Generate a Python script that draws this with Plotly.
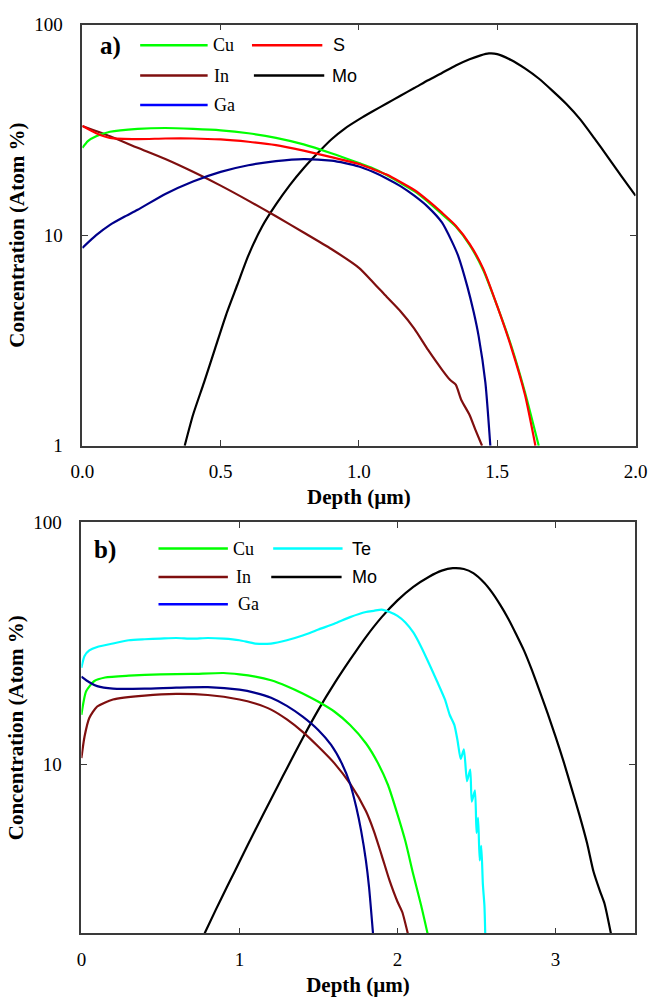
import plotly.graph_objects as go

# ---------------- Panel a data (depth in um, concentration in atom %) ----------------
depth_a_cu = [0, 0.02, 0.05, 0.1, 0.2, 0.3, 0.4, 0.5, 0.6, 0.7, 0.8, 0.9, 1.0, 1.05, 1.1, 1.15, 1.2, 1.25, 1.3, 1.35, 1.4, 1.45, 1.5, 1.55, 1.6, 1.65]
cu_a = [26, 28, 29.5, 31, 32, 32.3, 32, 31.5, 30.5, 29, 27, 24.5, 22, 20.8, 19.3, 17.7, 16.2, 14.4, 12.6, 11, 9.0, 6.8, 4.6, 3.0, 1.8, 1.0]

depth_a_s = [0, 0.05, 0.1, 0.2, 0.3, 0.4, 0.5, 0.6, 0.7, 0.8, 0.9, 1.0, 1.05, 1.1, 1.15, 1.2, 1.25, 1.3, 1.35, 1.4, 1.45, 1.5, 1.55, 1.6, 1.638]
s_a = [33, 30.5, 29, 28.6, 28.8, 28.8, 28.5, 27.8, 26.8, 25.2, 23.5, 21.8, 20.6, 19.4, 17.9, 16.4, 14.6, 12.8, 11.1, 9.1, 6.9, 4.6, 2.95, 1.75, 1.0]

depth_a_in = [0, 0.1, 0.2, 0.3, 0.4, 0.5, 0.6, 0.7, 0.8, 0.9, 1.0, 1.05, 1.1, 1.15, 1.2, 1.25, 1.3, 1.33, 1.35, 1.37, 1.4, 1.42, 1.445]
in_a = [33, 29.5, 26, 23, 20, 17.2, 14.6, 12.3, 10.3, 8.6, 7.0, 6.0, 5.1, 4.35, 3.6, 2.85, 2.3, 2.05, 1.95, 1.65, 1.4, 1.2, 1.0]

depth_a_ga = [0, 0.05, 0.1, 0.15, 0.2, 0.3, 0.4, 0.5, 0.6, 0.7, 0.8, 0.9, 0.95, 1.0, 1.05, 1.1, 1.15, 1.2, 1.25, 1.3, 1.335, 1.36, 1.392, 1.415, 1.433, 1.457, 1.475]
ga_a = [8.7, 10, 11.2, 12.2, 13.2, 15.7, 18, 20, 21.5, 22.5, 23, 22.6, 22, 21.2, 20, 18.6, 17.1, 15.4, 13.6, 11.5, 9.4, 7.9, 5.7, 4.3, 3.3, 2.0, 1.0]

depth_a_mo = [0.37, 0.40, 0.44, 0.48, 0.52, 0.56, 0.6, 0.65, 0.7, 0.75, 0.8, 0.85, 0.9, 0.95, 1.0, 1.05, 1.1, 1.15, 1.2, 1.25, 1.3, 1.35, 1.4, 1.44, 1.47, 1.5, 1.55, 1.6, 1.65, 1.7, 1.75, 1.8, 1.85, 1.9, 1.95, 2.0]
mo_a = [1.0, 1.4, 2.0, 2.9, 4.2, 5.8, 8.0, 11.0, 14.0, 17.3, 20.8, 24.5, 28.5, 32.2, 35.5, 38.8, 42.2, 46, 50, 54.5, 59, 64, 68.5, 71.5, 73, 72.5, 68, 62, 55.5, 48.5, 42, 35.5, 29, 23.5, 19, 15.4]

# ---------------- Panel b data ----------------
depth_b_cu = [0, 0.03, 0.08, 0.15, 0.3, 0.5, 0.7, 0.9, 1.0, 1.1, 1.2, 1.3, 1.4, 1.5, 1.6, 1.7, 1.8, 1.88, 1.94, 2.0, 2.05, 2.1, 2.15, 2.19]
cu_b = [16, 20, 22, 22.8, 23.2, 23.5, 23.6, 23.8, 23.5, 23, 22.2, 21, 19.6, 18.1, 16.5, 14.5, 12.2, 10, 8.2, 6.2, 4.8, 3.5, 2.6, 2.0]

depth_b_te = [0, 0.02, 0.05, 0.1, 0.2, 0.3, 0.4, 0.5, 0.6, 0.7, 0.8, 0.9, 1.0, 1.1, 1.2, 1.3, 1.4, 1.5, 1.6, 1.7, 1.8, 1.85, 1.9, 1.95, 2.0, 2.05, 2.1, 2.15, 2.2, 2.25, 2.3, 2.33, 2.36, 2.38, 2.4, 2.42, 2.44, 2.46, 2.47, 2.49, 2.5, 2.51, 2.52, 2.53, 2.54, 2.55, 2.555]
te_b = [25, 28, 29.5, 30.5, 31.5, 32.5, 32.8, 33, 33.2, 33, 33.2, 33, 32.5, 31.5, 31.5, 32.5, 34, 36, 38, 40.5, 42.5, 43, 43.5, 42.5, 41, 38.5, 35, 30.5, 26, 22, 18.5, 16, 14.5, 12.5, 10.5, 11.5, 8.5, 9.5, 7, 7.8, 5.2, 6, 4, 4.6, 3.2, 2.6, 2.0]

depth_b_in = [0, 0.02, 0.05, 0.1, 0.2, 0.4, 0.6, 0.8, 1.0, 1.1, 1.2, 1.3, 1.4, 1.5, 1.6, 1.7, 1.8, 1.85, 1.9, 1.95, 2.0, 2.03, 2.065]
in_b = [10.6, 13, 15.5, 17.3, 18.5, 19.2, 19.5, 19.3, 18.5, 17.8, 16.8, 15.3, 13.6, 11.8, 10.1, 8.3, 6.4, 5.3, 4.2, 3.3, 2.7, 2.45, 2.0]

depth_b_ga = [0, 0.05, 0.1, 0.2, 0.4, 0.6, 0.8, 1.0, 1.1, 1.2, 1.3, 1.4, 1.5, 1.58, 1.65, 1.7, 1.74, 1.77, 1.8, 1.82, 1.845]
ga_b = [23, 21.8, 21, 20.5, 20.5, 20.7, 20.8, 20.3, 19.7, 18.8, 17.4, 15.7, 13.8, 12, 10, 8.3, 6.6, 5.3, 4.0, 3.1, 2.0]

depth_b_mo = [0.78, 0.85, 0.92, 0.97, 1.05, 1.15, 1.25, 1.3, 1.4, 1.5, 1.6, 1.7, 1.8, 1.9, 2.0, 2.1, 2.2, 2.28, 2.35, 2.42, 2.48, 2.55, 2.6, 2.65, 2.7, 2.75, 2.8, 2.85, 2.9, 2.95, 3.0, 3.05, 3.1, 3.15, 3.2, 3.24, 3.28, 3.31, 3.35]
mo_b = [2.0, 2.5, 3.1, 3.6, 4.6, 6.2, 8.3, 9.6, 12.8, 16.8, 21.5, 27, 33.5, 40.5, 47.5, 54, 59.5, 63, 64.5, 64, 61.5, 56, 51, 45.5, 40, 34.5, 29.5, 24.5, 20, 16.2, 13, 10.3, 8, 6.2, 4.7, 3.6, 3.0, 2.65, 2.0]

# tick labels
xticks_a = [0, 0.5, 1.0, 1.5, 2.0]
xticklabels_a = ["0.0", "0.5", "1.0", "1.5", "2.0"]
xticks_b = [0, 1, 2, 3]
xticklabels_b = ["0", "1", "2", "3"]
yticks_a = [1, 10, 100]
yticks_b = [10, 100]

GREEN = "#00FF00"
RED = "#FF0000"
BROWN = "#7F0F0F"
NAVY = "#00008B"
BLUE = "#0000FF"
CYAN = "#00FFFF"
BLACK = "#000000"

W, H = 662, 1007


def px(x):
    return x / W


def py(y):
    return 1 - y / H


fig = go.Figure()

panel_a = [
    ("Mo", depth_a_mo, mo_a, BLACK),
    ("In", depth_a_in, in_a, BROWN),
    ("Ga", depth_a_ga, ga_a, NAVY),
    ("Cu", depth_a_cu, cu_a, GREEN),
    ("S", depth_a_s, s_a, RED),
]
for name, xs, ys, col in panel_a:
    fig.add_trace(go.Scatter(x=xs, y=ys, mode="lines", name=name,
                             line=dict(color=col, width=2.2, shape="spline", smoothing=0.6),
                             showlegend=False, xaxis="x", yaxis="y"))

panel_b = [
    ("Mo", depth_b_mo, mo_b, BLACK),
    ("Te", depth_b_te, te_b, CYAN),
    ("Cu", depth_b_cu, cu_b, GREEN),
    ("In", depth_b_in, in_b, BROWN),
    ("Ga", depth_b_ga, ga_b, NAVY),
]
for name, xs, ys, col in panel_b:
    fig.add_trace(go.Scatter(x=xs, y=ys, mode="lines", name=name,
                             line=dict(color=col, width=2.2, shape="spline", smoothing=0.6),
                             showlegend=False, xaxis="x2", yaxis="y2"))

SERIF = "Liberation Serif, Times New Roman, serif"
SANS = "Liberation Sans Narrow, Liberation Sans, Arial, sans-serif"
AXCOL = "#3a3a3a"

common_axis = dict(showline=True, linecolor=AXCOL, linewidth=1.5, mirror="ticks",
                   ticks="inside", ticklen=6, tickwidth=1.3, tickcolor=AXCOL,
                   showgrid=False, zeroline=False,
                   tickfont=dict(family=SERIF, size=19, color="black"))
title_font = dict(family=SERIF, size=21, color="black", weight="bold")

fig.update_layout(
    width=W, height=H, autosize=False,
    margin=dict(l=0, r=0, t=0, b=0),
    paper_bgcolor="white", plot_bgcolor="white",
    xaxis=dict(domain=[px(73), px(647)], range=[0, 2.0], anchor="y",
               tickvals=xticks_a, ticktext=xticklabels_a, ticklabelstandoff=8,
               title=dict(text="Depth (µm)", font=title_font, standoff=8),
               **common_axis),
    yaxis=dict(domain=[py(445), py(15)], type="log", range=[0, 2], anchor="x",
               tickvals=yticks_a, ticktext=[str(v) for v in yticks_a], ticklabelstandoff=14,
               title=dict(text="Concentration (Atom %)", font=title_font, standoff=4),
               **common_axis),
    xaxis2=dict(domain=[px(72), px(646)], range=[0, 3.5], anchor="y2",
                tickvals=xticks_b, ticktext=xticklabels_b, ticklabelstandoff=8,
                title=dict(text="Depth (µm)", font=title_font, standoff=8),
                **common_axis),
    yaxis2=dict(domain=[py(943), py(523)], type="log", range=[0.30103, 2], anchor="x2",
                tickvals=yticks_b, ticktext=[str(v) for v in yticks_b], ticklabelstandoff=14,
                title=dict(text="Concentration (Atom %)", font=title_font, standoff=4),
                **common_axis),
)

shapes = []
annotations = []


def legend_item(x0, x1, y, color, label, lx, font):
    shapes.append(dict(type="line", xref="paper", yref="paper",
                       x0=px(x0), x1=px(x1), y0=py(y), y1=py(y),
                       line=dict(color=color, width=2.5)))
    annotations.append(dict(xref="paper", yref="paper", x=px(lx), y=py(y),
                            xanchor="left", yanchor="middle", showarrow=False,
                            text=label, font=dict(family=font, size=18, color="black")))


# panel a legend
annotations.append(dict(xref="paper", yref="paper", x=px(102), y=py(37), xanchor="center",
                        yanchor="middle", showarrow=False, text="<b>a)</b>",
                        font=dict(family=SERIF, size=25, color="black")))
legend_item(133, 203, 36, GREEN, "Cu", 206, SERIF)
legend_item(249, 322, 36, RED, "S", 331, SANS)
legend_item(133, 203, 67, BROWN, "In", 208, SERIF)
legend_item(251, 324, 67, BLACK, "Mo", 330, SANS)
legend_item(133, 203, 97, BLUE, "Ga", 208, SERIF)

# panel b legend
annotations.append(dict(xref="paper", yref="paper", x=px(96), y=py(551), xanchor="center",
                        yanchor="middle", showarrow=False, text="<b>b)</b>",
                        font=dict(family=SERIF, size=25, color="black")))
legend_item(152, 224, 550, GREEN, "Cu", 227, SERIF)
legend_item(271, 343, 550, CYAN, "Te", 351, SANS)
legend_item(152, 224, 579, BROWN, "In", 230, SERIF)
legend_item(269, 342, 579, BLACK, "Mo", 351, SANS)
legend_item(152, 224, 607, BLUE, "Ga", 232, SERIF)

fig.update_layout(shapes=shapes, annotations=annotations)

fig.write_html("out.html")
